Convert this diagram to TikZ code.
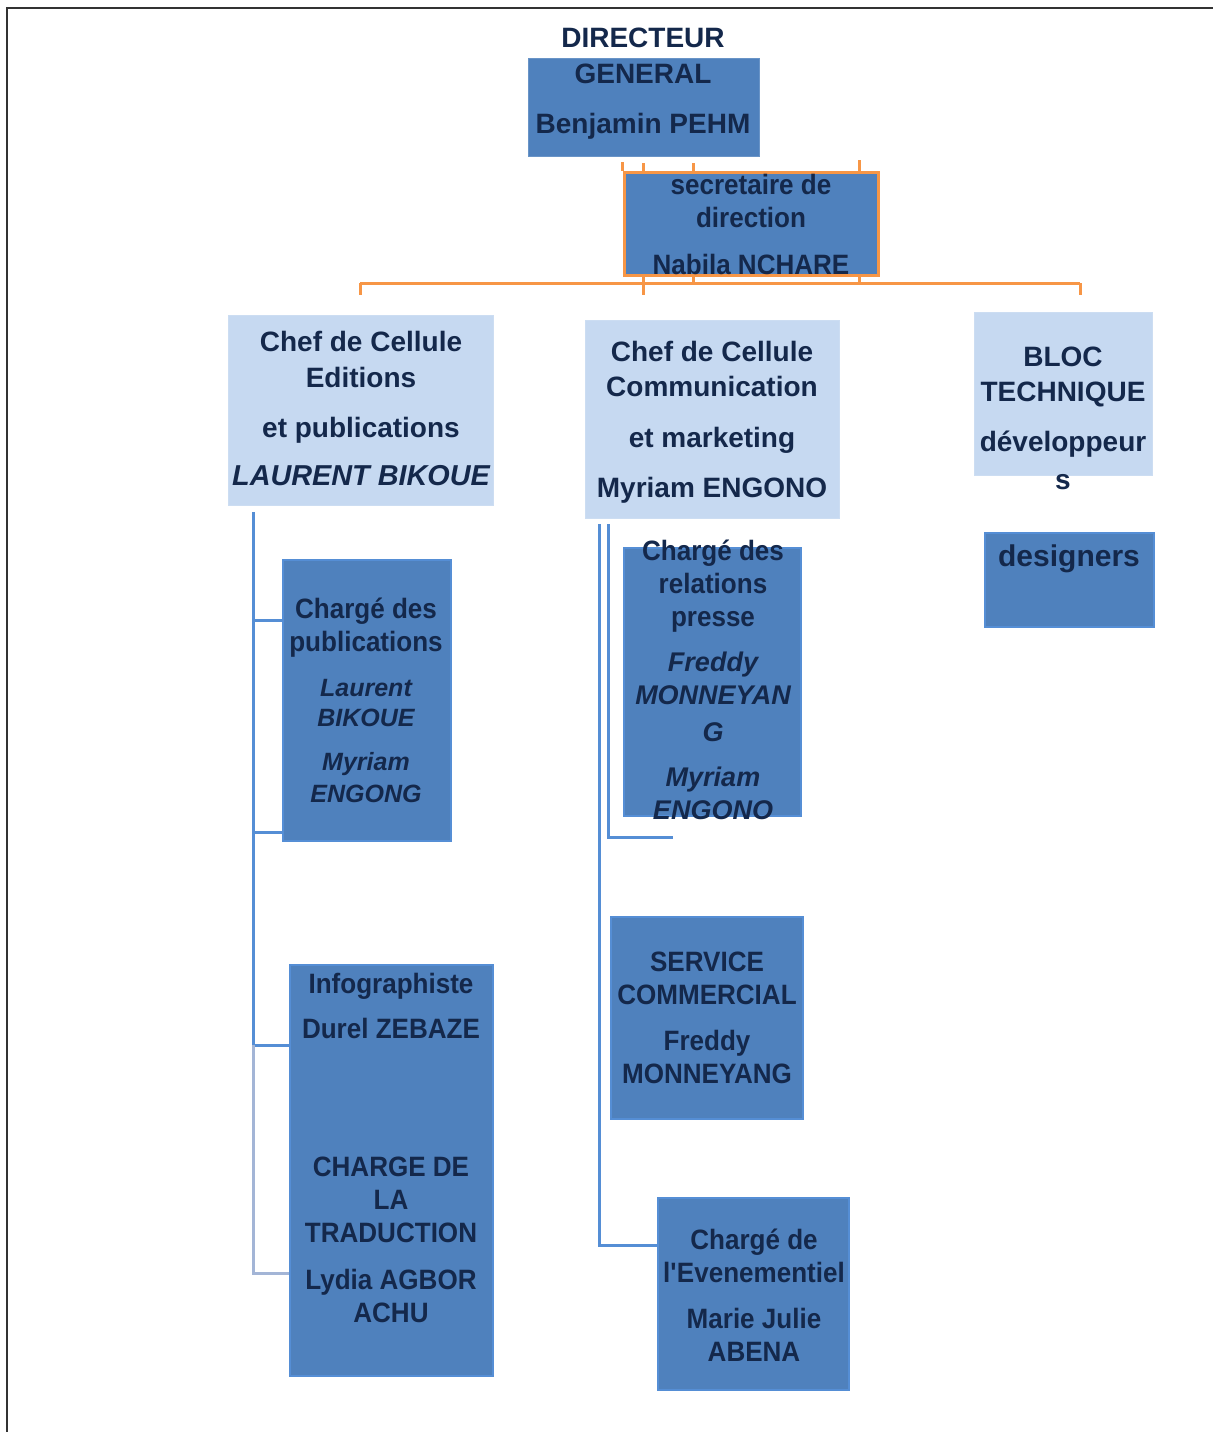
\documentclass[tikz,border=0pt]{standalone}
\usepackage{fontspec}
\setmainfont{Liberation Sans}
\newfontfamily\narrowf{Liberation Sans}[FakeStretch=0.93]
\usetikzlibrary{fit}
\definecolor{txt}{HTML}{14284B}
\definecolor{boxblue}{HTML}{4F81BD}
\definecolor{boxedge}{HTML}{558ED5}
\definecolor{lightfill}{HTML}{C6D9F1}
\definecolor{orng}{HTML}{F79646}
\definecolor{fadeline}{HTML}{A3B5D6}
\newcommand{\nmbig}{\bfseries\itshape\fontsize{14.4}{16.5}\selectfont}
\newcommand{\nms}{\rmfamily\bfseries\itshape\fontsize{12.5}{16.5}\selectfont}
\newcommand{\nml}{\rmfamily\bfseries\itshape\fontsize{13.5}{16.5}\selectfont}
\begin{document}
\begin{tikzpicture}[x=0.5pt,y=-0.5pt,
  darkbox/.style={fill=boxblue, draw=boxedge, line width=1.2pt, inner sep=0pt},
  dgbox/.style={fill=boxblue, draw=boxblue!85!white, line width=0.4pt, inner sep=0pt},
  secbox/.style={fill=boxblue, draw=orng, line width=1.5pt, inner sep=0pt},
  lightbox/.style={fill=lightfill, draw=lightfill!90!white, line width=0.4pt, inner sep=0pt},
  lbl/.style={text=txt, font=\bfseries\fontsize{14}{16.5}\selectfont, align=center, anchor=north, inner sep=0pt},
  lbln/.style={lbl, font=\narrowf\bfseries\fontsize{14}{16.5}\selectfont},
  conn/.style={draw=boxedge, line width=1.5pt},
  fadeconn/.style={draw=fadeline, line width=1.5pt},
  orline/.style={draw=orng, line width=1.5pt}]
\useasboundingbox (0,0) rectangle (1213,1432);
% page frame
\draw[line width=1pt, black!80] (7,1432) -- (7,8) -- (1213,8);

% orange connectors (behind boxes)
\coordinate (busL) at (360,283);
\coordinate (busR) at (1080,283);
\coordinate (tA) at (643,163);
\coordinate (tB) at (693,163);
\coordinate (tC) at (859,160);
\draw[orline] (busL) -- (busR);
\draw[orline] (busL) -- ++(0,12);
\draw[orline] (busR) -- ++(0,12);
\draw[orline] (tA) -- ++(0,132);
\draw[orline] (tB) -- ++(0,120);
\draw[orline] (tC) -- ++(0,123);

% boxes
\node[dgbox, fit={(528,58) (759,156)}] (dg) {};
\node[secbox, fit={(624,172) (878,275)}] (sec) {};
\draw[orline] (sec.north west) -- ++(0,-9);
\node[lightbox, fit={(228,315) (493,505)}] (cellL) {};
\node[lightbox, fit={(585,320) (839,518)}] (cellM) {};
\node[lightbox, fit={(974,312) (1152,475)}] (bloc) {};
\node[darkbox, fit={(985,533) (1154,627)}] (design) {};
\node[darkbox, fit={(283,560) (451,841)}] (pub) {};
\node[darkbox, fit={(290,965) (493,1376)}] (info) {};
\node[darkbox, fit={(624,548) (801,816)}] (press) {};
\node[darkbox, fit={(611,917) (803,1119)}] (comm) {};
\node[darkbox, fit={(658,1198) (849,1390)}] (event) {};

% blue connectors, left column
\coordinate (lTop) at (253,512);
\coordinate (lMid) at (253,1045);
\coordinate (lEnd) at (253,1273);
\draw[conn] (lTop) -- (lMid);
\draw[conn] (253,620) -- (253,620 -| pub.west);
\draw[conn] (253,832) -- (253,832 -| pub.west);
\draw[conn] (lMid) -- (lMid -| info.west);
\draw[fadeconn] (lMid) -- (lEnd) -- (lEnd -| info.west);

% blue connectors, middle column
\coordinate (mTop) at (599,524);
\coordinate (mEnd) at (599,1245);
\coordinate (nTop) at (608,524);
\coordinate (nEnd) at (608,837);
\coordinate (nTip) at (673,837);
\draw[conn] (mTop) -- (mEnd) -- (mEnd -| event.west);
\draw[conn] (nTop) -- (nEnd) -- (nTip);

% texts
\node[lbl] (dgt) at (643,28) {DIRECTEUR\\[1.5pt]GENERAL\\[8.5pt]Benjamin PEHM};
\node[lbln] (sect) at (751,174) {secretaire de\\direction\\[7pt]Nabila NCHARE};
\node[lbl] (cellLt) at (361,331) {Chef de Cellule\\[1.5pt]Editions\\[8.5pt]et publications\\[7.5pt]{\nmbig LAURENT BIKOUE}};
\node[lbl] (cellMt) at (712,341) {Chef de Cellule\\[1pt]Communication\\[9pt]et marketing\\[8.5pt]Myriam ENGONO};
\node[lbl] (bloct) at (1063,347) {BLOC\\[1pt]TECHNIQUE\\[8.5pt]développeur\\[2.5pt]s};
\node[lbl, font=\bfseries\fontsize{15}{17}\selectfont] (designt) at (1069,544) {designers};
\node[lbln] (pubt) at (366,598) {Chargé des\\publications\\[6pt]{\nms Laurent}\\[-1.5pt]{\nms BIKOUE}\\[5.5pt]{\nms Myriam}\\[-0.5pt]{\nms ENGONG}};
\node[lbln] (presst) at (713,540) {Chargé des\\relations\\presse\\[6pt]{\nml Freddy}\\{\nml MONNEYAN}\\[2pt]{\nml G}\\[6pt]{\nml Myriam}\\{\nml ENGONO}};
\node[lbln] (infot) at (391,973) {Infographiste\\[6pt]Durel ZEBAZE\\[52.5pt]CHARGE DE\\LA\\TRADUCTION\\[7pt]Lydia AGBOR\\ACHU};
\node[lbln] (commt) at (707,952) {SERVICE\\COMMERCIAL\\[6.5pt]Freddy\\MONNEYANG};
\node[lbln] (eventt) at (754,1229) {Chargé de\\l\textquotesingle Evenementiel\\[6.5pt]Marie Julie\\ABENA};
\end{tikzpicture}
\end{document}
